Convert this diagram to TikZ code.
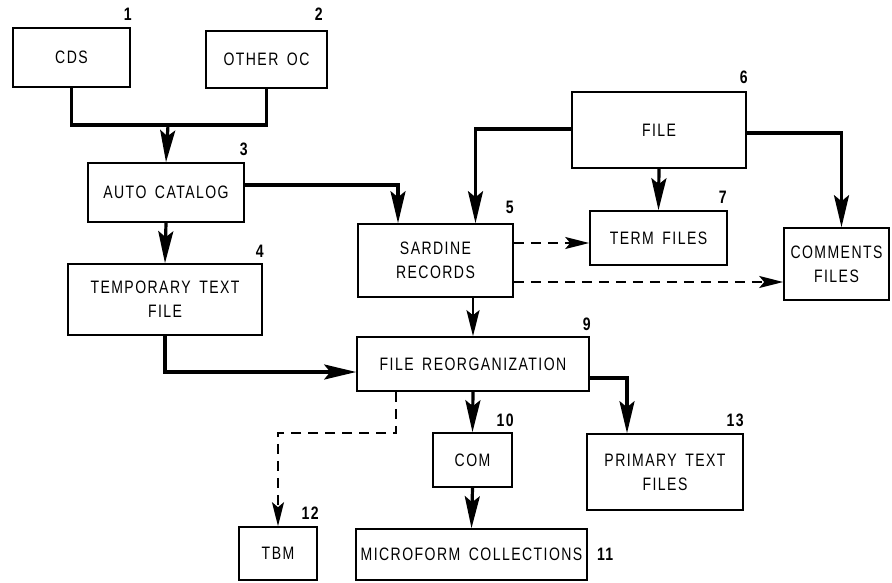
\documentclass[tikz,border=0pt]{standalone}
\usepackage{fontspec}
\setmainfont[FakeStretch=0.78,LetterSpace=8,WordSpace=1.6]{Liberation Sans}
\usetikzlibrary{arrows.meta,positioning,calc}

\begin{document}
\begin{tikzpicture}[
  x=1pt, y=-1pt,
  >={Stealth[length=32pt,width=15pt,inset=6pt]},
  every node/.style={font=\fontsize{18}{24}\selectfont},
  box/.style={draw, line width=1.6pt, inner sep=0pt, align=center},
  num/.style={font=\bfseries\fontsize{18}{20}\selectfont, inner sep=0pt, anchor=south east},
  flow/.style={->, line width=3.2pt},
  link/.style={line width=3.2pt},
  opt/.style={-{Stealth[length=24pt,width=12pt,inset=5pt]}, line width=2.2pt, dash pattern=on 10pt off 7pt},
  thin flow/.style={-{Stealth[length=26pt,width=13pt,inset=5pt]}, line width=2.4pt},
]
\useasboundingbox (0,0) rectangle (892,582);

% --- Nodes -----------------------------------------------------
% sources (top left)
\node[box, minimum width=117pt, minimum height=59pt] (CDS)   at (71.5,57.5) {CDS};
\node[box, minimum width=121pt, minimum height=57pt] (OTHER) at (266.5,59.5) {OTHER OC};
\node[box, minimum width=156pt, minimum height=59pt] (AUTO)  at (166,192.5) {AUTO CATALOG};
\node[box, minimum width=194pt, minimum height=71pt] (TEMP)  at (165,299.5) {TEMPORARY TEXT\\FILE};

% file and records (top right)
\node[box, minimum width=174pt, minimum height=76pt] (FILE)  at (659,130) {FILE};
\node[box, minimum width=155pt, minimum height=73pt] (SARD)  at (435.5,260.5) {SARDINE\\RECORDS};
\node[box, minimum width=137pt, minimum height=54pt] (TERM)  at (658.5,238) {TERM FILES};
\node[box, minimum width=105pt, minimum height=72pt] (COMM)  at (836.5,264) {COMMENTS\\FILES};

% reorganization and outputs (bottom)
\node[box, minimum width=232pt, minimum height=54pt] (REORG) at (473,364) {FILE REORGANIZATION};
\node[box, minimum width=79pt,  minimum height=54pt] (COM)   at (472.5,460) {COM};
\node[box, minimum width=156pt, minimum height=76pt] (PRIM)  at (665,472) {PRIMARY TEXT\\FILES};
\node[box, minimum width=231pt, minimum height=51pt] (MICRO) at (471.5,554.5) {MICROFORM COLLECTIONS};
\node[box, minimum width=78pt,  minimum height=53pt] (TBM)   at (278,553.5) {TBM};

% --- Box numbers -----------------------------------------------
\node[num] (n1)  at ([xshift=1pt,yshift=7pt]CDS.north east) {1};
\node[num] (n2)  at ([xshift=-5pt,yshift=10pt]OTHER.north east) {2};
\node[num] (n3)  at ([xshift=3pt,yshift=6pt]AUTO.north east) {3};
\node[num] (n4)  at ([xshift=1pt,yshift=6pt]TEMP.north east) {4};
\node[num] (n5)  at ([yshift=9pt]SARD.north east) {5};
\node[num] (n6)  at ([xshift=1pt,yshift=7pt]FILE.north east) {6};
\node[num] (n7)  at ([xshift=-1pt,yshift=7pt]TERM.north east) {7};
\node[num] (n9)  at ([xshift=1pt,yshift=5pt]REORG.north east) {9};
\node[num] (n10) at ([xshift=1pt,yshift=5pt]COM.north east) {10};
\node[num] (n12) at ([xshift=1pt,yshift=7pt]TBM.north east) {12};
\node[num] (n13) at ([yshift=6pt]PRIM.north east) {13};
\node[num, anchor=west] (n11) at ([xshift=9pt]MICRO.east) {11};

% --- Solid flows -----------------------------------------------
\coordinate (join) at (168,125);
\draw[link] (CDS.south) |- (join) -| (OTHER.south);
\draw[flow] (join) -- (AUTO.north);
\draw[flow] (AUTO.south) -- (TEMP.north);
\draw[flow] (TEMP.south) |- ([yshift=-8pt]REORG.west);
\draw[flow] ([yshift=7.5pt]AUTO.east) -| ([xshift=-37.5pt]SARD.north);
\draw[flow] ([yshift=1pt]FILE.west) -| ([xshift=40pt]SARD.north);
\draw[flow] (FILE.south) -- (TERM.north);
\draw[flow] ([yshift=-3pt]FILE.east) -| ([xshift=5pt]COMM.north);
\draw[thin flow] (REORG.north |- SARD.south) -- (REORG.north);
\draw[flow] (REORG.south) -- (COM.north);
\draw[flow] (COM.south) -- (MICRO.north);
\draw[flow] ([yshift=-14pt]REORG.east) -| ([xshift=-38pt]PRIM.north);

% --- Dashed flows ----------------------------------------------
\draw[opt] ([yshift=17.5pt]SARD.east) -- ([yshift=17.5pt]SARD.east -| TERM.west);
\draw[opt] ([yshift=-21.5pt]SARD.east) -- ([yshift=-21.5pt]SARD.east -| COMM.west);
\draw[opt] ([xshift=-77pt]REORG.south) -- ++(0,41) -| (TBM.north);

\end{tikzpicture}
\end{document}
